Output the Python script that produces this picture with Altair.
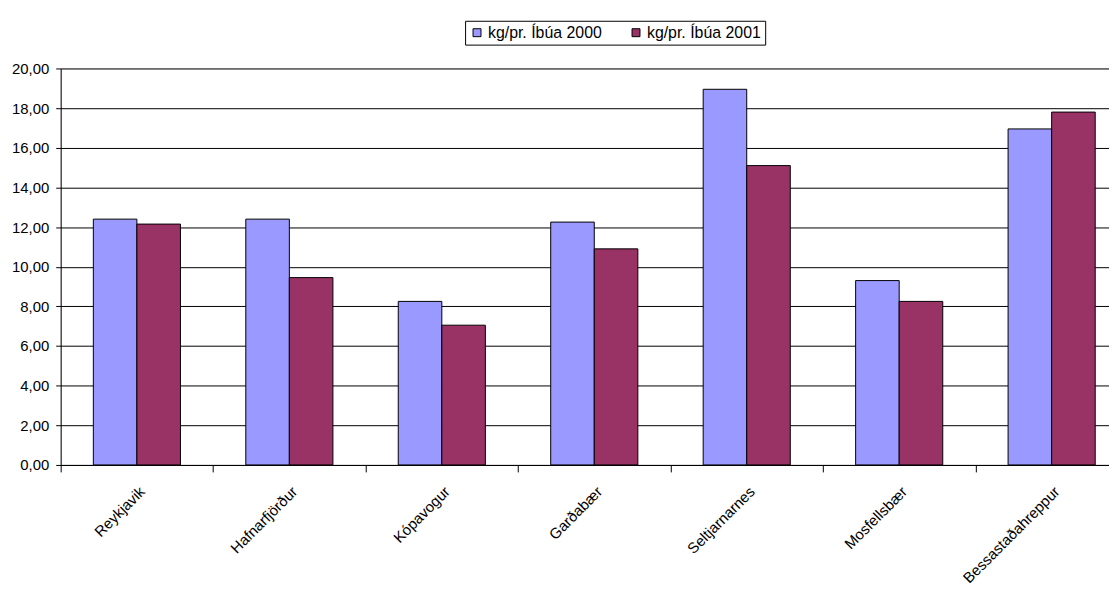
import altair as alt
import pandas as pd

categories = ["Reykjavik", "Hafnarfjörður", "Kópavogur", "Garðabær",
              "Seltjarnarnes", "Mosfellsbær", "Bessastaðahreppur"]
series_names = ["kg/pr. Íbúa 2000", "kg/pr. Íbúa 2001"]
values_2000 = [12.4, 12.4, 8.25, 12.25, 18.95, 9.3, 16.95]
values_2001 = [12.15, 9.45, 7.05, 10.9, 15.1, 8.25, 17.8]
colors = ["#9999FF", "#993366"]

rows = []
for c, a, b in zip(categories, values_2000, values_2001):
    rows.append({"Sveitarfélag": c, "Röð": series_names[0], "Gildi": a})
    rows.append({"Sveitarfélag": c, "Röð": series_names[1], "Gildi": b})
df = pd.DataFrame(rows)

FONT = "Liberation Sans"

chart = alt.Chart(df).mark_bar(stroke="#000000", strokeWidth=1).encode(
    x=alt.X("Sveitarfélag:N", sort=categories, title=None,
            scale=alt.Scale(paddingInner=0, paddingOuter=0),
            axis=alt.Axis(labelAngle=-45, labelAlign="right", labelBaseline="top",
                          labelPadding=12, tickBand="extent", tickSize=7,
                          domainColor="#000000", tickColor="#000000",
                          labelFontSize=15, labelColor="#000000", labelFont=FONT,
                          labelOverlap=False, labelLimit=400)),
    xOffset=alt.XOffset("Röð:N", sort=series_names,
                        scale=alt.Scale(paddingInner=0, paddingOuter=0.75)),
    y=alt.Y("Gildi:Q", title=None,
            scale=alt.Scale(domain=[0, 20], nice=False),
            axis=alt.Axis(values=[0, 2, 4, 6, 8, 10, 12, 14, 16, 18, 20],
                          labelExpr="replace(format(datum.value, '.2f'), '.', ',')",
                          grid=True, gridColor="#000000", gridOpacity=1, gridWidth=1,
                          domainColor="#000000", tickColor="#000000", tickSize=5,
                          labelPadding=7, labelFontSize=15, labelColor="#000000",
                          labelFont=FONT)),
    color=alt.Color("Röð:N", sort=series_names,
                    scale=alt.Scale(domain=series_names, range=colors),
                    legend=alt.Legend(title=None, orient="none", legendX=407, legendY=-48,
                                      direction="horizontal", symbolType="square",
                                      symbolSize=64, symbolStrokeColor="#000000",
                                      symbolStrokeWidth=1, labelFontSize=16,
                                      labelFont=FONT, labelColor="#000000",
                                      strokeColor="#000000", padding=4,
                                      columnPadding=26, labelOffset=3)),
).properties(
    width=1074, height=399,
    autosize=alt.AutoSizeParams(type="none"),
    padding={"left": 53, "top": 59, "right": -19, "bottom": 125},
).configure_view(stroke=None).configure(background="#ffffff")

chart.save("out.html", embed_options={"renderer": "svg", "actions": False})
